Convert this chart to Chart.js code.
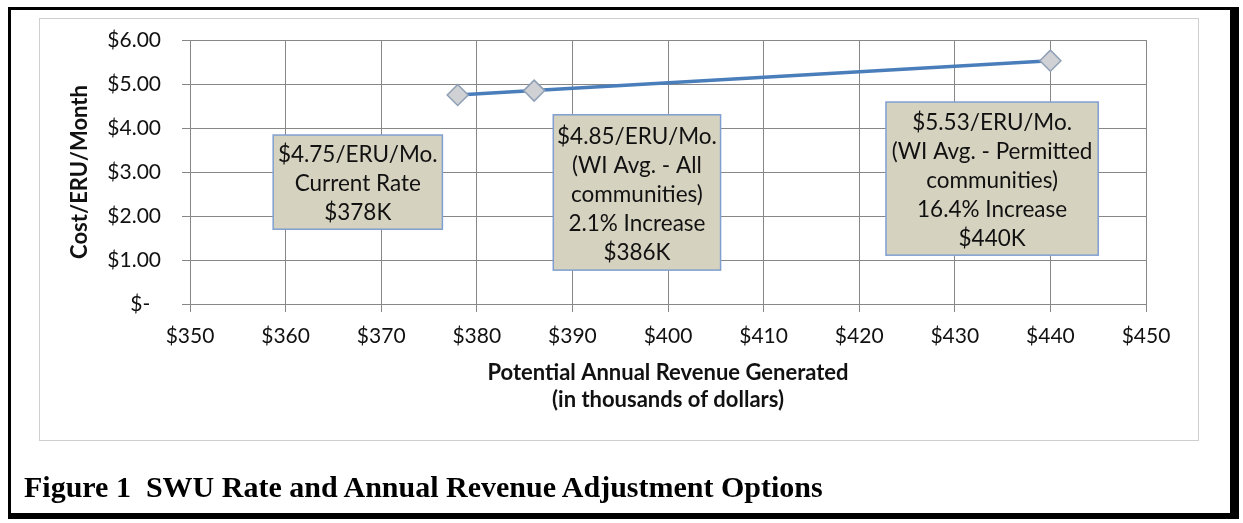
<!doctype html>
<html>

<head>
	<title>SWU Rate and Annual Revenue</title>
	<script src="https://cdn.jsdelivr.net/npm/chart.js@4.4.0/dist/chart.umd.min.js"></script>
	<style>
	body {
		margin: 0;
		background: #fff;
		overflow: hidden;
	}
	#frame {
		position: absolute;
		left: 8px;
		top: 7px;
		width: 1231px;
		height: 512px;
		box-sizing: border-box;
		border: 3px solid #000;
		border-right-width: 9px;
		border-bottom-width: 6px;
	}
	#plotbox {
		position: absolute;
		left: 39px;
		top: 18px;
		width: 1160px;
		height: 423px;
		box-sizing: border-box;
		border: 1px solid #cfcfcf;
	}
	#container {
		position: absolute;
		left: 0;
		top: 0;
		width: 1243px;
		height: 523px;
	}
	#caption {
		position: absolute;
		left: 24px;
		top: 472px;
		font: bold 30px "Liberation Serif", "Times New Roman", serif;
		line-height: 30px;
		white-space: pre;
		color: #000;
	}
	</style>
</head>

<body>
	<div id="frame"></div>
	<div id="plotbox"></div>
	<div id="container">
		<canvas id="rate-chart"></canvas>
	</div>
	<div id="caption">Figure 1  SWU Rate and Annual Revenue Adjustment Options</div>
<script>

// revenue options ($K / year) and the matching rate ($ / ERU / month)
var revenue = [378, 386, 440];
var rate = [4.75, 4.85, 5.53];
var optionNotes = [
  ['Current Rate'],
  ['(WI Avg. - All', 'communities)', '2.1% Increase'],
  ['(WI Avg. - Permitted', 'communities)', '16.4% Increase']
];

var revenueTicks = [350, 360, 370, 380, 390, 400, 410, 420, 430, 440, 450];
var rateTicks = [0, 1, 2, 3, 4, 5, 6];

var inkColor = '#111';
var gridColor = '#878787';

function calloutLines(i) {
  return ['$' + rate[i].toFixed(2) + '/ERU/Mo.'].concat(optionNotes[i], ['$' + revenue[i] + 'K']);
}

// text boxes, placed in axis units (x0..x1 revenue, y0..y1 rate)
var calloutPlugin = {
  id: 'callouts',
  afterDatasetsDraw: function(chart, args, opts) {
    var ctx = chart.ctx;
    var xs = chart.scales.x, ys = chart.scales.y;
    ctx.save();
    opts.boxes.forEach(function(b, i) {
      var left = xs.getPixelForValue(b.x0), right = xs.getPixelForValue(b.x1);
      var top = ys.getPixelForValue(b.y0), bottom = ys.getPixelForValue(b.y1);
      ctx.fillStyle = opts.fill;
      ctx.fillRect(left, top, right - left, bottom - top);
      ctx.strokeStyle = opts.border;
      ctx.lineWidth = 1.5;
      ctx.strokeRect(left, top, right - left, bottom - top);

      var lines = calloutLines(i);
      ctx.fillStyle = inkColor;
      ctx.font = opts.font;
      ctx.textAlign = 'center';
      ctx.textBaseline = 'middle';
      var cx = (left + right) / 2, cy = (top + bottom) / 2 + 2;
      lines.forEach(function(t, k) {
        ctx.fillText(t, cx, cy + (k - (lines.length - 1) / 2) * opts.lineHeight);
      });
    });
    ctx.restore();
  }
};

var points = revenue.map(function(v, i) { return {x: v, y: rate[i]}; });

new Chart(document.getElementById('rate-chart'), {
  type: 'line',
  data: {
    datasets: [{
      data: points,
      borderColor: '#4a7ebb',
      borderWidth: 3.5,
      tension: 0,
      pointStyle: 'rectRot',
      pointRadius: 10.5,
      pointBackgroundColor: '#cfd1d4',
      pointBorderColor: '#8f9fb5',
      pointBorderWidth: 1.5
    }]
  },
  plugins: [calloutPlugin],
  options: {
    responsive: true,
    maintainAspectRatio: false,
    animation: false,
    layout: { padding: { left: 39, top: 40, right: 97, bottom: 82 } },
    plugins: {
      legend: { display: false },
      tooltip: { enabled: false },
      callouts: {
        fill: '#d6d2c0',
        border: '#7f9fd0',
        font: '22.5px Lato',
        lineHeight: 29,
        boxes: [
          { x0: 358.7, x1: 376.4, y0: 3.84, y1: 1.70 },
          { x0: 388.0, x1: 405.5, y0: 4.30, y1: 0.77 },
          { x0: 422.8, x1: 445.0, y0: 4.59, y1: 1.11 }
        ]
      }
    },
    scales: {
      x: {
        type: 'linear',
        min: 350,
        max: 450,
        afterBuildTicks: function(s) { s.ticks = revenueTicks.map(function(v) { return {value: v}; }); },
        afterFit: function(s) { s.height = 137; },
        grid: { color: gridColor, tickLength: 8 },
        border: { color: gridColor },
        ticks: {
          padding: 12,
          autoSkip: false,
          maxRotation: 0,
          color: inkColor,
          font: { family: 'Lato', size: 21 },
          callback: function(v) { return '$' + v; }
        },
        title: {
          display: true,
          text: ['Potential Annual Revenue Generated', '(in thousands of dollars)'],
          color: inkColor,
          font: { family: 'Lato', size: 22, weight: 'bold', lineHeight: 1.2 },
          padding: { top: 0, bottom: 28 }
        }
      },
      y: {
        min: 0,
        max: 6,
        afterBuildTicks: function(s) { s.ticks = rateTicks.map(function(v) { return {value: v}; }); },
        afterFit: function(s) { s.width = 151; },
        grid: { color: gridColor, tickLength: 8 },
        border: { color: gridColor },
        ticks: {
          padding: 21,
          color: inkColor,
          font: { family: 'Lato', size: 21 },
          callback: function(v) { return v === 0 ? '$-  ' : '$' + v.toFixed(2); }
        },
        title: {
          display: true,
          text: 'Cost/ERU/Month',
          color: inkColor,
          font: { family: 'Lato', size: 22, weight: 'bold' },
          padding: { top: 28, bottom: 0 }
        }
      }
    }
  }
});

</script>
</body>

</html>
